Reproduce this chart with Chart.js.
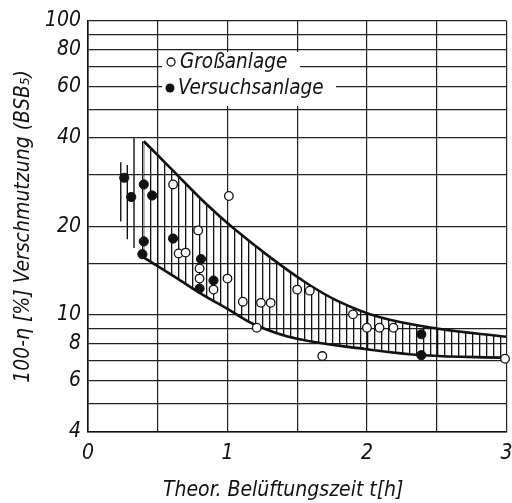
<!DOCTYPE html>
<html>
<head>
<meta charset="utf-8">
<script src="https://cdn.jsdelivr.net/npm/chart.js@4/dist/chart.umd.min.js"></script>
<style>
html, body { margin: 0; padding: 0; background: #fff; }
#wrap { width: 512px; height: 503px; }
</style>
</head>
<body>
<div id="wrap"><canvas id="chart" width="512" height="503"></canvas></div>
<script>
// Großanlage (open circles)
const openX = [0.61, 1.01, 0.79, 0.65, 0.70, 0.80, 0.80, 0.90, 1.00, 1.11, 1.24, 1.31, 1.21, 1.50, 1.59, 1.90, 2.00, 2.09, 2.19, 1.68, 2.99];
const openY = [27.8, 25.4, 19.4, 16.2, 16.3, 14.4, 13.3, 12.2, 13.3, 11.1, 11.0, 11.0, 9.05, 12.2, 12.1, 10.05, 9.05, 9.05, 9.05, 7.25, 7.1];

// Versuchsanlage (filled circles)
const filledX = [0.26, 0.31, 0.40, 0.46, 0.40, 0.39, 0.61, 0.81, 0.90, 0.80, 2.39, 2.39];
const filledY = [29.3, 25.2, 27.8, 25.5, 17.8, 16.1, 18.2, 15.5, 13.1, 12.3, 8.6, 7.3];

// band limits
const upperX = [0.40, 0.60, 0.85, 1.05, 1.30, 1.55, 1.80, 2.10, 2.50, 3.00];
const upperY = [39.0, 31.3, 23.8, 19.6, 15.8, 13.0, 11.1, 9.8, 9.0, 8.43];
const lowerX = [0.39, 0.60, 0.80, 1.00, 1.20, 1.50, 2.00, 2.40, 3.00];
const lowerY = [15.8, 13.7, 11.9, 10.5, 9.25, 8.3, 7.65, 7.3, 7.15];

// scatter range strokes left of the band
const rangeX = [0.235, 0.282, 0.33, 0.392];
const rangeLow = [20.8, 18.1, 16.9, 16.0];
const rangeHigh = [33.1, 32.4, 39.9, 39.0];

// axes
const xGrid = [0, 0.5, 1, 1.5, 2, 2.5, 3];
const yGrid = [4, 5, 6, 7, 8, 9, 10, 15, 20, 30, 40, 50, 60, 70, 80, 90, 100];
const yLabels = [4, 6, 8, 10, 20, 40, 60, 80, 100];
const seriesNames = ['Großanlage', 'Versuchsanlage'];
const xTitle = 'Theor. Belüftungszeit t[h]';
const yTitle = '100-η [%] Verschmutzung (BSB₅)';

const FONT = "'DejaVu Sans Condensed', 'Liberation Sans Narrow', 'DejaVu Sans', sans-serif";
const INK = '#111';

const canvas = document.getElementById('chart');
const ctx = canvas.getContext('2d');

function hatchPattern() {
    const c = document.createElement('canvas');
    c.width = 7; c.height = 7;
    const g = c.getContext('2d');
    g.fillStyle = INK;
    g.fillRect(3, 0, 1.3, 7);
    return ctx.createPattern(c, 'repeat');
}

const pts = (xs, ys) => xs.map((x, i) => ({ x, y: ys[i] }));

const rangeData = [];
rangeX.forEach((x, i) => {
    rangeData.push({ x, y: rangeLow[i] }, { x, y: rangeHigh[i] }, { x, y: null });
});

const insideLegend = {
    id: 'insideLegend',
    beforeDatasetsDraw(chart) {
        const { ctx, chartArea: a } = chart;
        ctx.save();
        ctx.fillStyle = '#fff';
        ctx.fillRect(a.left + 74, a.top + 31, 138, 23);
        ctx.fillRect(a.left + 74, a.top + 54, 174, 31);
        ctx.restore();
    },
    afterDatasetsDraw(chart) {
        const { ctx, chartArea: a } = chart;
        ctx.save();
        ctx.font = 'italic 20.5px ' + FONT;
        ctx.textBaseline = 'middle';
        ctx.fillStyle = INK;
        ctx.strokeStyle = INK;
        ctx.lineWidth = 1.3;
        ctx.beginPath();
        ctx.arc(a.left + 83, a.top + 41, 4, 0, Math.PI * 2);
        ctx.stroke();
        ctx.fillText(seriesNames[0], a.left + 92, a.top + 42);
        ctx.beginPath();
        ctx.arc(a.left + 82, a.top + 67, 4.5, 0, Math.PI * 2);
        ctx.fill();
        ctx.fillText(seriesNames[1], a.left + 90, a.top + 68);
        ctx.restore();
    },
    afterDraw(chart) {
        // x axis title, set a little left of centre as in the original
        const { ctx, chartArea: a } = chart;
        ctx.save();
        ctx.font = 'italic 21px ' + FONT;
        ctx.textAlign = 'center';
        ctx.textBaseline = 'middle';
        ctx.fillStyle = INK;
        ctx.fillText(xTitle, (a.left + a.right) / 2 - 14, a.bottom + 59);
        ctx.restore();
    }
};

new Chart(ctx, {
    type: 'scatter',
    data: {
        datasets: [
            {
                label: 'lower',
                data: pts(lowerX, lowerY),
                showLine: true,
                tension: 0.4,
                borderColor: INK,
                borderWidth: 2.6,
                pointRadius: 0,
                fill: false,
                order: 5
            },
            {
                label: 'upper',
                data: pts(upperX, upperY),
                showLine: true,
                tension: 0.4,
                borderColor: INK,
                borderWidth: 2.6,
                pointRadius: 0,
                fill: '-1',
                backgroundColor: hatchPattern(),
                order: 4
            },
            {
                label: 'range',
                data: rangeData,
                showLine: true,
                spanGaps: false,
                borderColor: INK,
                borderWidth: 1.4,
                pointRadius: 0,
                order: 3
            },
            {
                label: seriesNames[0],
                data: pts(openX, openY),
                pointRadius: 4.3,
                pointBackgroundColor: '#fff',
                pointBorderColor: INK,
                pointBorderWidth: 1.3,
                clip: false,
                order: 2
            },
            {
                label: seriesNames[1],
                data: pts(filledX, filledY),
                pointRadius: 4.6,
                pointBackgroundColor: INK,
                pointBorderColor: INK,
                pointBorderWidth: 1,
                clip: false,
                order: 1
            }
        ]
    },
    options: {
        responsive: false,
        animation: false,
        layout: { padding: { top: 21, right: 2, left: 0, bottom: 0 } },
        plugins: {
            legend: { display: false },
            tooltip: { enabled: false }
        },
        scales: {
            x: {
                type: 'linear',
                min: 0, max: 3,
                offset: false,
                afterBuildTicks: s => { s.ticks = xGrid.map(v => ({ value: v })); },
                afterFit: s => { s.height = 71; s.paddingLeft = 0; s.paddingRight = 0; },
                ticks: {
                    callback: v => Number.isInteger(v) ? String(v) : '',
                    font: { family: FONT, size: 21, style: 'italic' },
                    color: INK,
                    padding: 9,
                    maxRotation: 0,
                    autoSkip: false
                },
                grid: { color: '#222', lineWidth: 1.2, drawTicks: false },
                border: { color: INK, width: 1.6 },
                title: { display: false }
            },
            y: {
                type: 'logarithmic',
                min: 4, max: 100,
                afterBuildTicks: s => { s.ticks = yGrid.map(v => ({ value: v })); },
                afterFit: s => { s.width = 88; s.paddingTop = 0; s.paddingBottom = 0; },
                ticks: {
                    callback: v => yLabels.includes(v) ? String(v) : '',
                    font: { family: FONT, size: 21, style: 'italic' },
                    color: INK,
                    padding: 7,
                    autoSkip: false
                },
                grid: { color: '#222', lineWidth: 1.2, drawTicks: false },
                border: { color: INK, width: 1.6 },
                title: {
                    display: true,
                    text: yTitle,
                    font: { family: FONT, size: 21, style: 'italic' },
                    color: INK,
                    padding: { top: 11, bottom: 0 }
                }
            }
        }
    },
    plugins: [insideLegend]
});
</script>
</body>
</html>
